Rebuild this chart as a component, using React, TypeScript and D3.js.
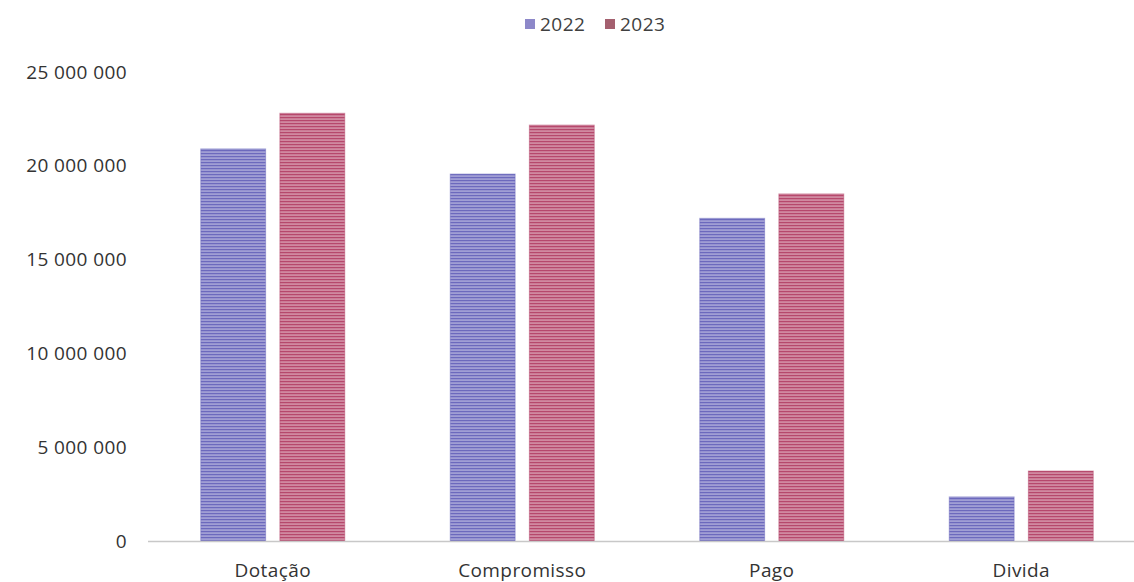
import React from "react";
import * as d3 from "d3";

const categories = ["Dotação", "Compromisso", "Pago", "Divida"];
const seriesNames = ["2022", "2023"];
const values2022 = [20900000, 19560000, 17200000, 2350000];
const values2023 = [22800000, 22170000, 18500000, 3730000];
const yTicks = [0, 5000000, 10000000, 15000000, 20000000, 25000000];

const colors: Record<string, string> = { "2022": "#6c69bd", "2023": "#b6486c" };
const legendColors: Record<string, string> = { "2022": "#8d88c9", "2023": "#a4606f" };

const W = 1134;
const H = 582;

export default function App() {
  const x0 = d3.scaleBand<string>().domain(categories).range([148, 1146]).paddingInner(0).paddingOuter(0);
  const bw = x0.bandwidth();
  const groupW = 144;
  const x1 = d3
    .scaleBand<string>()
    .domain(seriesNames)
    .range([(bw - groupW) / 2, (bw + groupW) / 2])
    .paddingInner(0.18)
    .paddingOuter(0);
  const y = d3.scaleLinear().domain([0, 25000000]).range([541, 72]);
  const fmt = (v: number) => d3.format(",")(v).replace(/,/g, " ");
  const data = categories.map((c, i) => ({ c, v: { "2022": values2022[i], "2023": values2023[i] } as Record<string, number> }));
  const font = "'Open Sans', sans-serif";

  return (
    <svg width={W} height={H} style={{ position: "absolute", left: 0, top: 0, background: "#fff" }}>
      <defs>
        {seriesNames.map((s) => (
          <pattern key={s} id={`pat${s}`} width={4} height={3} patternUnits="userSpaceOnUse">
            <rect width={4} height={3} fill={colors[s]} />
            <rect y={1.6} width={4} height={0.9} fill="#ffffff" opacity={0.7} />
          </pattern>
        ))}
      </defs>
      {/* legend */}
      <g fontFamily={font} fontSize={19} fill="#404040" letterSpacing={0.5}>
        <rect x={525} y={19} width={10} height={10} fill={legendColors["2022"]} />
        <text x={540} y={31}>2022</text>
        <rect x={605} y={19} width={10} height={10} fill={legendColors["2023"]} />
        <text x={620} y={31}>2023</text>
      </g>
      {/* y ticks */}
      <g fontFamily={font} fontSize={19} fill="#333" letterSpacing={0.4}>
        {yTicks.map((t) => (
          <text key={t} x={127} y={y(t)} dy="0.35em" textAnchor="end">
            {fmt(t)}
          </text>
        ))}
      </g>
      {/* bars */}
      {data.map((d) => (
        <g key={d.c} transform={`translate(${x0(d.c)},0)`}>
          {seriesNames.map((s) => (
            <rect
              key={s}
              x={x1(s)}
              y={y(d.v[s])}
              width={x1.bandwidth()}
              height={y(0) - y(d.v[s])}
              fill={`url(#pat${s})`}
              stroke={colors[s]}
              strokeOpacity={0.5}
              strokeWidth={1}
            />
          ))}
        </g>
      ))}
      {/* baseline */}
      <line x1={148} x2={W} y1={y(0) + 0.5} y2={y(0) + 0.5} stroke="#c8c8c8" strokeWidth={1.5} />
      {/* category labels */}
      <g fontFamily={font} fontSize={19} fill="#333" letterSpacing={0.4}>
        {categories.map((c) => (
          <text key={c} x={(x0(c) as number) + bw / 2} y={577} textAnchor="middle">
            {c}
          </text>
        ))}
      </g>
    </svg>
  );
}
